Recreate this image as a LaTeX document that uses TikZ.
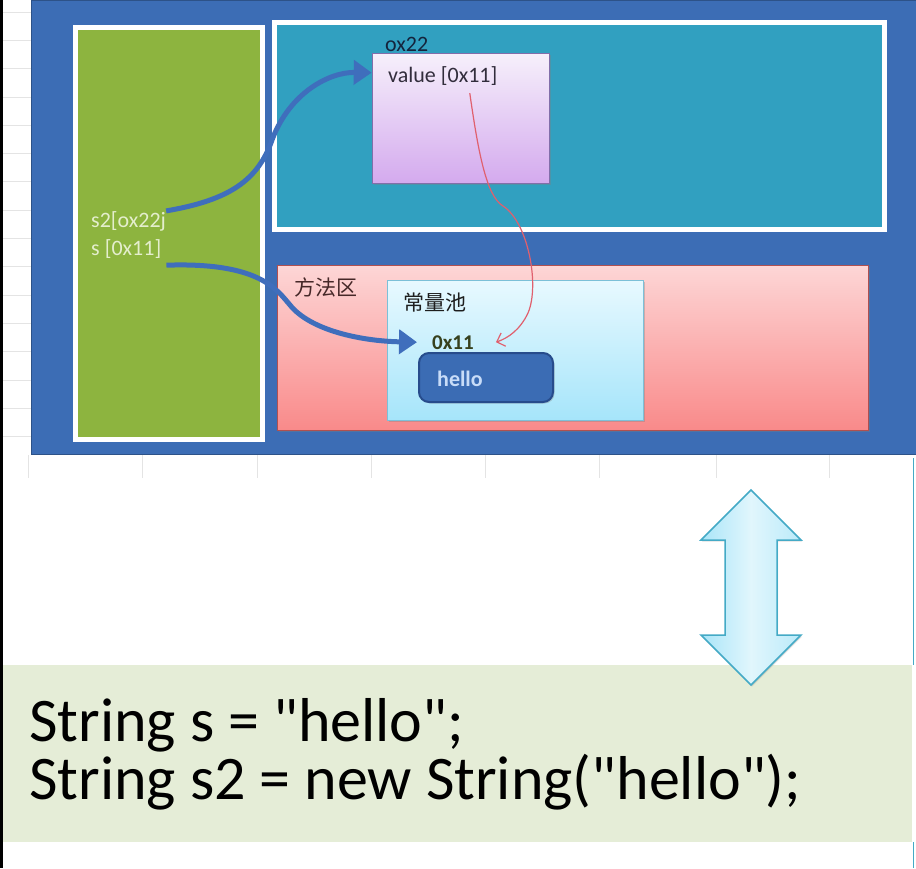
\documentclass[tikz,border=0pt]{standalone}
\usepackage{fontspec}
\setmainfont{Carlito}
\newfontfamily\codefont{Carlito}[Ligatures=ResetAll]
\newfontfamily\cjk{Noto Sans CJK SC}
\usetikzlibrary{arrows.meta,shadows}
\definecolor{outerblue}{HTML}{3C6DB5}
\definecolor{stackgreen}{HTML}{8DB43F}
\definecolor{heapteal}{HTML}{31A0C0}
\definecolor{arrowblue}{HTML}{3F6EBC}
\definecolor{redline}{HTML}{E0606E}
\definecolor{codebg}{HTML}{E5EDD7}
\definecolor{gridgray}{HTML}{E4E4E4}
\definecolor{dblfill}{HTML}{A9E5F8}
\definecolor{dbledge}{HTML}{44AAC6}
\begin{document}
\begin{tikzpicture}[x=1pt,y=-1pt,
  box/.style={inner sep=0pt, anchor=center},
  softshadow/.style={drop shadow={shadow xshift=1.5pt,shadow yshift=-1.5pt,opacity=.35}},
  lbl/.style={inner sep=0pt, anchor=base west, font=\fontsize{22}{26}\selectfont},
  cjklbl/.style={inner sep=0pt, anchor=west, font=\cjk\fontsize{21}{25}\selectfont},
  codeline/.style={inner sep=0pt, anchor=base west, font=\codefont\fontsize{62}{62}\selectfont, text=black},
  ptr/.style={draw=arrowblue, line width=5pt, -{Triangle[length=18pt,width=24pt]}},
  redptr/.style={draw=redline, line width=1.2pt, -{Straight Barb[length=7pt,width=14pt]}}]
\useasboundingbox (0,0) rectangle (916,868);
\fill[white] (0,0) rectangle (916,868);
\fill[black] (0,0) rectangle (3,868);
% spreadsheet grid
\foreach \gy in {12,40.3,68.6,96.9,125.2,153.5,181.8,210.1,238.4,266.7,295,323.3,351.6,379.9,408.2,436.5}
  \draw[gridgray, line width=.8pt] (3,\gy) -- (31,\gy);
\foreach \gx in {28,142,257,371,485,599,716,829}
  \draw[gridgray, line width=.8pt] (\gx,455) -- (\gx,478);
\draw[dbledge, line width=1pt] (913.5,458) -- (913.5,665);
\draw[dbledge, line width=1pt] (913.5,842) -- (913.5,868);
% outer area
\node[box, fill=outerblue, draw=outerblue!75!black, line width=1pt,
      minimum width=886pt, minimum height=454pt] (outer) at (474,227) {};
% stack
\node[box, fill=stackgreen, draw=white, line width=5pt,
      minimum width=187pt, minimum height=412pt] (stack) at (169,233.5) {};
% heap
\node[box, fill=heapteal, draw=white, line width=5pt,
      minimum width=610pt, minimum height=207pt] (heap) at (579.5,126) {};
% object
\node[box, softshadow, top color={rgb,255:red,246;green,240;blue,251},
      bottom color={rgb,255:red,212;green,170;blue,238},
      draw={rgb,255:red,130;green,110;blue,170}, line width=.6pt,
      minimum width=177pt, minimum height=130pt] (obj) at (460.5,118) {};
% method area
\node[box, softshadow, top color={rgb,255:red,253;green,214;blue,214},
      bottom color={rgb,255:red,249;green,138;blue,138},
      draw={rgb,255:red,176;green,80;blue,80}, line width=.6pt,
      minimum width=591pt, minimum height=165pt] (method) at (572.5,347.5) {};
% constant pool
\node[box, softshadow, top color={rgb,255:red,232;green,249;blue,255},
      bottom color={rgb,255:red,166;green,229;blue,250},
      draw={rgb,255:red,124;green,192;blue,216}, line width=.6pt,
      minimum width=256pt, minimum height=140pt] (pool) at (515,350) {};
% hello
\node[box, softshadow, rounded corners=10pt, fill={rgb,255:red,59;green,108;blue,180},
      draw={rgb,255:red,39;green,76;blue,140}, line width=2pt,
      minimum width=134pt, minimum height=49pt] (hellobox) at (486,377.5) {};
% labels
\node[lbl, text={rgb,255:red,20;green,36;blue,60}] (addr22) at (385,51) {ox22};
\node[lbl, text={rgb,255:red,50;green,45;blue,60}] (val) at (388,82) {value [0x11]};
\node[cjklbl, text={rgb,255:red,70;green,40;blue,40}] (methodlbl) at (294,287) {方法区};
\node[cjklbl, text={rgb,255:red,30;green,30;blue,30}] (poollbl) at (403,303) {常量池};
\node[lbl, font=\bfseries\fontsize{21}{25}\selectfont, text={rgb,255:red,55;green,65;blue,30}] (zero) at (432,349) {0x11};
\node[lbl, font=\bfseries\fontsize{22}{26}\selectfont, text={rgb,255:red,200;green,220;blue,248}] (hello) at (437,386) {hello};
\node[lbl, text={rgb,255:red,228;green,238;blue,205}] (s2lbl) at (91,227) {s2[ox22j};
\node[lbl, text={rgb,255:red,228;green,238;blue,205}] (slbl) at (91,255) {s [0x11]};
% pointers
\draw[ptr] (s2lbl.north east) .. controls (230,200) and (258,180) .. (272,140)
  .. controls (290,92) and (330,72) .. ([yshift=-20pt]obj.north west);
\draw[ptr] ([xshift=5pt,yshift=-7pt]slbl.south east) .. controls (260,262) and (277,290) .. (290,305)
  .. controls (310,330) and (360,341) .. ([xshift=-15pt]zero.west);
\draw[redptr] ([xshift=27pt,yshift=-8pt]val.south) .. controls (478,150) and (486,196) .. (503,206)
  .. controls (528,222) and (540,285) .. (528,313)
  .. controls (520,330) and (508,338) .. ([xshift=22pt]zero.east);
% code panel
\fill[codebg] (3,665) rectangle (912,842);
\node[codeline] (code1) at (29,741) {String s = "hello";};
\node[codeline] (code2) at (29,799) {String s2 = new String("hello");};
% double arrow
\path[draw=dbledge, line width=1.5pt, line join=miter,
      left color=dblfill, right color=dblfill!80!white, middle color=dblfill!35!white,
      drop shadow={shadow xshift=1pt,shadow yshift=-1.5pt,opacity=.25}]
  (751,490) -- (801,540) -- (777,540) -- (777,635) -- (801,635) -- (751,685)
  -- (701,635) -- (725,635) -- (725,540) -- (701,540) -- cycle;
\end{tikzpicture}
\end{document}
